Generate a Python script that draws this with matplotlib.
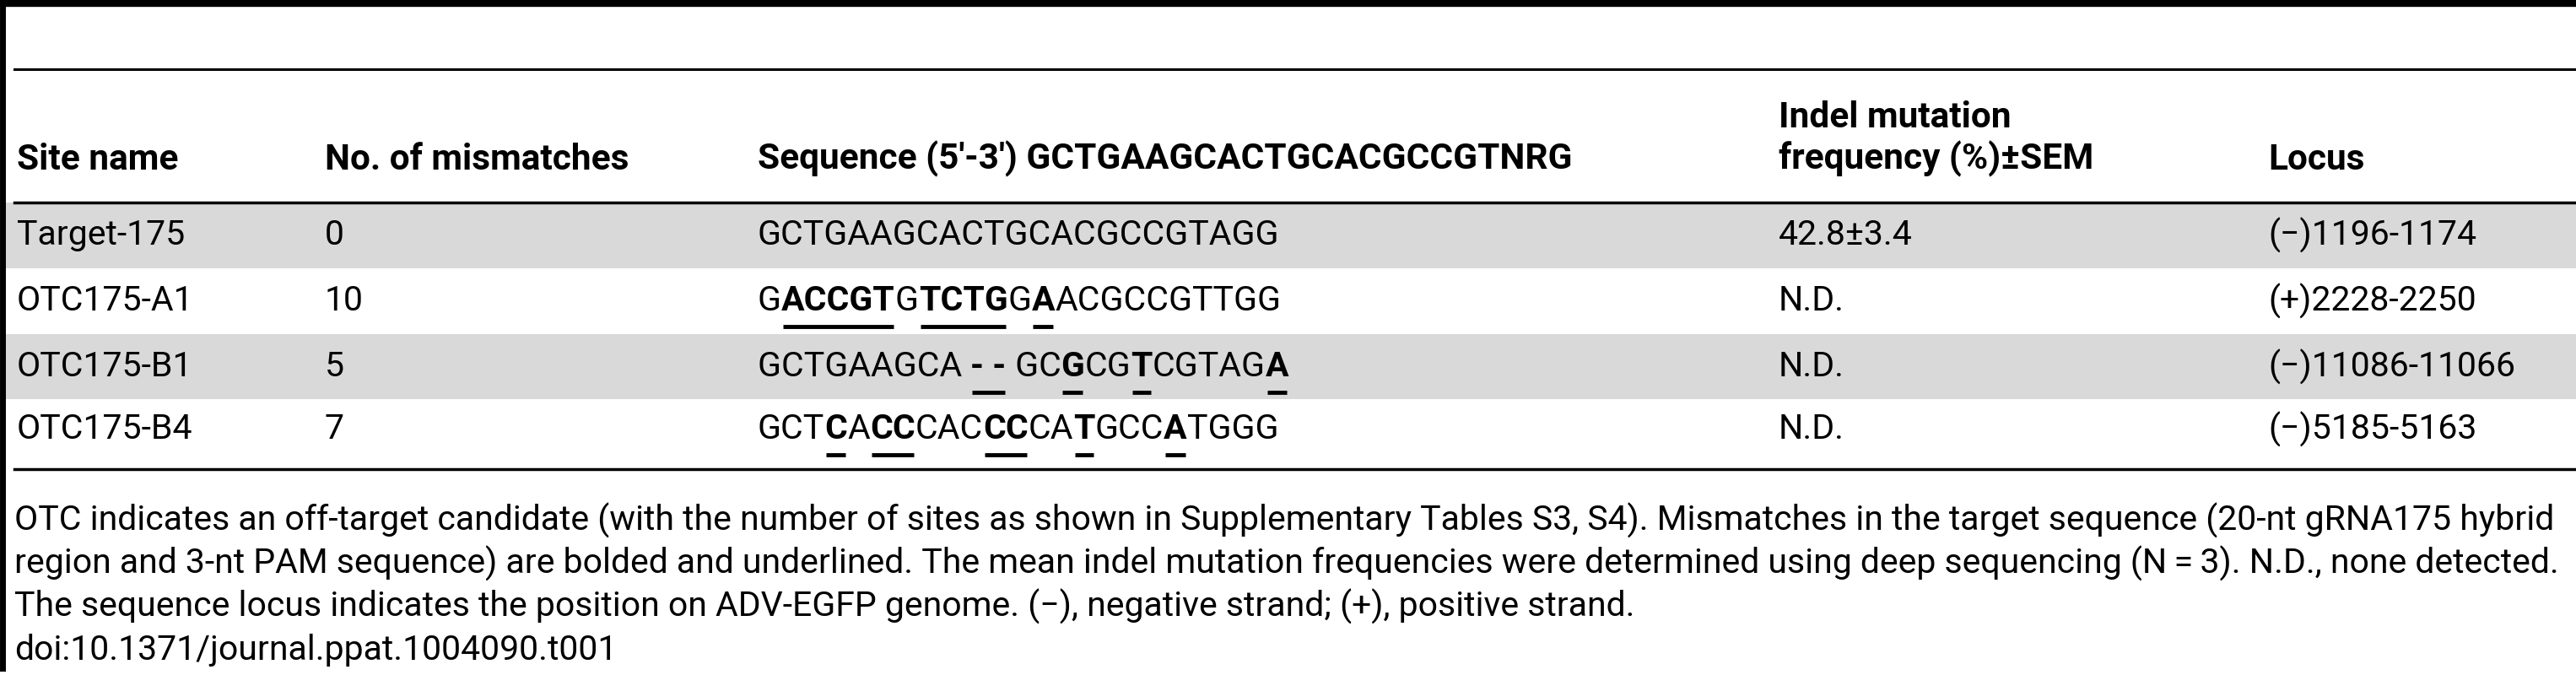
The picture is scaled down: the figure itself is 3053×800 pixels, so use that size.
import re
import matplotlib
matplotlib.use("Agg")
import matplotlib.pyplot as plt
from matplotlib.patches import Rectangle

W, H = 3053, 800
FONT = "Roboto"

COL_X = [20, 385, 898, 2108, 2688]
HEADERS = ["Site name", "No. of mismatches", "Sequence (5\u2032-3\u2032) GCTGAAGCACTGCACGCCGTNRG",
           "Indel mutation\nfrequency (%)\u00b1SEM", "Locus"]
SITES = ["Target-175", "OTC175-A1", "OTC175-B1", "OTC175-B4"]
MISMATCHES = ["0", "10", "5", "7"]
# bracketed parts are bolded and underlined mismatches
SEQUENCES = ["GCTGAAGCACTGCACGCCGTAGG",
             "G[ACCGT]G[TCTG]G[A]ACGCCGTTGG",
             "GCTGAAGCA [- -] GC[G]CG[T]CGTAG[A]",
             "GCT[C]A[CC]CAC[CC]CA[T]GCC[A]TGGG"]
FREQS = ["42.8\u00b13.4", "N.D.", "N.D.", "N.D."]
LOCI = ["(\u2212)1196-1174", "(+)2228-2250", "(\u2212)11086-11066", "(\u2212)5185-5163"]
FOOTNOTES = [
    "OTC indicates an off-target candidate (with the number of sites as shown in Supplementary Tables S3, S4). Mismatches in the target sequence (20-nt gRNA175 hybrid",
    "region and 3-nt PAM sequence) are bolded and underlined. The mean indel mutation frequencies were determined using deep sequencing (N\u2009=\u20093). N.D., none detected.",
    "The sequence locus indicates the position on ADV-EGFP genome. (\u2212), negative strand; (+), positive strand.",
    "doi:10.1371/journal.ppat.1004090.t001",
]

ROW_TOP = [240, 318, 396, 473]
ROW_BOT = 556
FS = 29.5
FS_HEAD = 30.5
FS_NOTE = 29.5

fig = plt.figure(figsize=(W / 100, H / 100), dpi=100, facecolor="white")
ax = fig.add_axes([0, 0, 1, 1])
ax.set_xlim(0, W)
ax.set_ylim(H, 0)
ax.axis("off")

# shaded rows
bounds = ROW_TOP + [ROW_BOT]
for i in range(len(SITES)):
    if i % 2 == 0:
        ax.add_patch(Rectangle((0, bounds[i]), W, bounds[i + 1] - bounds[i], color="#d9d9d9", lw=0))

# rules
ax.plot([0, W], [4, 4], color="black", lw=6)
ax.plot([17, W], [82, 82], color="black", lw=2.2)
ax.plot([17, W], [240, 240], color="black", lw=2.5)
ax.plot([17, W], [ROW_BOT, ROW_BOT], color="black", lw=2.5)
ax.plot([3, 3], [0, 792], color="black", lw=5)

# header
for x, h in zip(COL_X, HEADERS):
    if "\n" in h:
        ax.text(x, 210, h, fontsize=FS_HEAD, fontweight="bold", family=FONT, va="bottom", ha="left",
                linespacing=1.2)
    else:
        ax.text(x, 201, h, fontsize=FS_HEAD, fontweight="bold", family=FONT, va="baseline", ha="left")

fig.canvas.draw()
renderer = fig.canvas.get_renderer()
inv = ax.transData.inverted()

for i in range(len(SITES)):
    yc = (bounds[i] + bounds[i + 1]) / 2 - (6 if i == 3 else 0)
    for x, val in zip([COL_X[0], COL_X[1], COL_X[3], COL_X[4]], [SITES[i], MISMATCHES[i], FREQS[i], LOCI[i]]):
        ax.text(x, yc, val, fontsize=FS, family=FONT, va="center", ha="left")
    x = COL_X[2]
    for part in re.split(r"(\[[^\]]*\])", SEQUENCES[i]):
        if not part:
            continue
        bold = part.startswith("[")
        s = part.strip("[]")
        t = ax.text(x, yc, s, fontsize=FS, family=FONT, va="center", ha="left",
                    fontweight="bold" if bold else "normal")
        bb = t.get_window_extent(renderer)
        x0 = inv.transform((bb.x0, bb.y0))[0]
        x1 = inv.transform((bb.x1, bb.y0))[0]
        if bold:
            ax.plot([x0 + 2, x1 - 2], [yc + 30, yc + 30], color="black", lw=3.5, solid_capstyle="butt")
        x = x1

for k, line in enumerate(FOOTNOTES):
    ax.text(17, 617 + k * 51, line, fontsize=FS_NOTE, family=FONT, va="center", ha="left")

fig.savefig("out.png", dpi=100, facecolor="white")
